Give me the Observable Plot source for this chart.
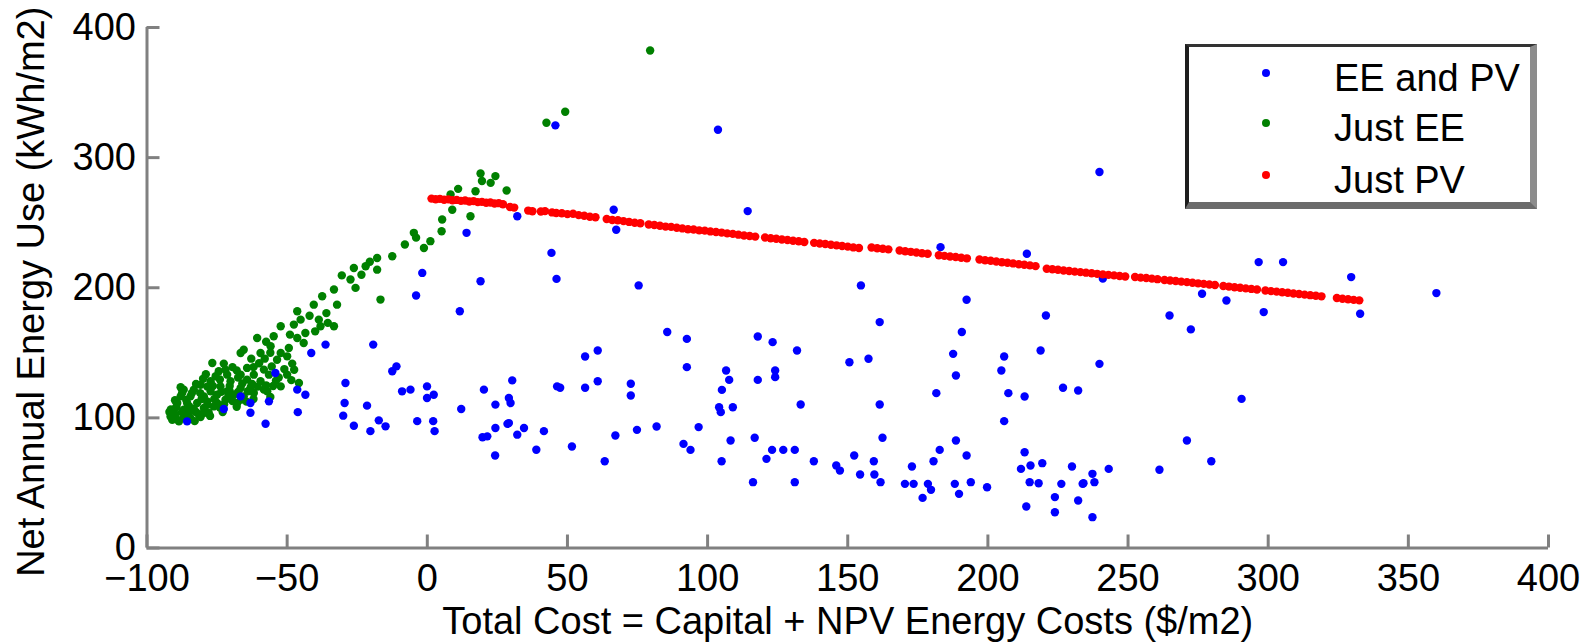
<!DOCTYPE html>
<html>
<head>
<meta charset="utf-8">
<script src="https://cdn.jsdelivr.net/npm/d3@7"></script>
<script src="https://cdn.jsdelivr.net/npm/@observablehq/plot@0.6"></script>
<style>
  body { margin: 0; background: #fff; }
  #wrap { position: relative; width: 1591px; height: 644px; font-family: 'Liberation Sans', Arial, Helvetica, sans-serif; }
  #legend { position: absolute; left: 1185px; top: 44px; width: 352px; height: 165px; box-sizing: border-box;
    border-left: 4px solid #1e1e1e; border-top: 3px solid #333; border-right: 7px solid #8c8c8c; border-bottom: 7px solid #6b6b6b; background: #fff; }
  .lg-dot { position: absolute; width: 8px; height: 8px; border-radius: 50%; }
  .lg-txt { position: absolute; font-size: 38px; line-height: 38px; color: #000; white-space: nowrap; }
</style>
</head>
<body>
<div id="wrap"></div>
<script>
// ---- tick values ----
const xTicks = [-100, -50, 0, 50, 100, 150, 200, 250, 300, 350, 400];
const yTicks = [0, 100, 200, 300, 400];
const xTitle = "Total Cost = Capital + NPV Energy Costs ($/m2)";
const yTitle = "Net Annual Energy Use (kWh/m2)";
const seriesNames = ["EE and PV", "Just EE", "Just PV"];
const seriesColors = ["#0000ff", "#008000", "#ff0000"];

// ---- series: [total cost, net annual energy use] ----
const eeAndPv = [
  [45.7,324.8],[32.1,255],[14.0,242.2],[44.3,226.8],[46.1,206.8],[-1.8,211.4],[19.0,205.0],[-4.0,194],[11.6,181.9],
  [-36.3,156.3],[-19.3,156.3],[-41.4,149.9],[-11.0,139.6],[-12.5,135.8],[30.3,128.8],[46.3,124.2],[-29.2,126.8],
  [-0.1,124.2],[-9.0,120.4],[-6.0,121.7],[2.3,117.8],[-0.1,115.3],[20.2,121.7],[29.1,115.3],[29.7,111.4],[24.3,110.2],
  [-43.5,117.8],[-46.4,121.7],[-56.5,112.7],[-63.1,111.4],[-72.6,106.8],[-63.1,103.9],[-46.2,104.4],[-29.5,111.4],
  [-30.0,101.7],[-21.5,109.4],[12.1,106.8],[-57.7,95.5],[-26.2,94.0],[-17.3,98.1],[-14.9,93.5],[-20.3,89.8],
  [-3.6,97.5],[2.1,97.5],[2.6,89.8],[24.3,92.2],[29.1,96.0],[34.5,92.2],[32.1,87.1],[41.6,89.8],[21.4,85.8],
  [24.2,71.1],[38.9,75.5],[-54.2,134.5],[-85.7,97.3],[-66.6,116.5],[19.7,85.1],[28.6,95.4],
  [103.7,321.4],[66.5,259.9],[67.4,244.6],[114.3,258.9],[75.4,201.8],[154.7,201.8],[183.1,231.2],[213.9,226.1],
  [192.4,190.8],[161.4,173.6],[220.7,178.7],[85.6,166],[190.7,166],[239.8,288.9],
  [92.6,160.7],[56.3,147.2],[60.8,151.8],[117.9,162.5],[123.2,158.2],[131.9,151.8],[187.6,149.2],[205.8,147.2],
  [218.8,151.8],[239.8,141.5],[150.6,142.8],[157.4,145.4],[92.6,139.0],[106.6,136.4],[107.7,129.2],[117.9,129.2],
  [124.1,136.4],[124.1,131.3],[204.8,136.4],[188.6,132.6],[47.4,123.1],[56.3,123.1],[60.8,128.2],[72.6,126.2],
  [72.6,117.2],[105.1,121.5],[181.6,119.0],[207.3,119.0],[213.1,116.4],[226.8,123.1],[232.2,121.0],[104.1,108.2],
  [109.0,108.2],[104.7,104.4],[133.2,110.3],[161.4,110.3],[205.8,97.5],[67.1,86.4],[74.8,90.8],[81.8,93.4],
  [96.8,92.9],[51.6,78.0],[91.4,80.0],[93.9,75.4],[108.2,82.6],[116.8,84.7],[162.4,84.7],[188.6,82.6],[63.3,66.7],
  [105.0,66.7],[121.0,68.5],[123.0,75.4],[127.0,75.4],[131.1,75.4],[137.9,66.7],[145.9,63.4],[147.2,59.5],
  [152.3,71.1],[159.3,66.7],[154.4,56.5],[159.5,56.5],[161.7,50.6],[172.9,62.6],[182.8,75.4],[180.6,66.7],
  [192.4,71.1],[170.4,49.3],[173.5,49.3],[178.6,49.3],[179.7,44.7],[176.7,38.5],[188.2,49.3],[193.9,50.6],
  [189.7,41.6],[199.7,46.7],[213.1,73.6],[211.8,60.8],[215.2,63.4],[219.4,65.2],[214.9,50.6],[218.1,49.8],
  [213.7,31.9],[226.2,49.3],[223.9,39.1],[223.9,27.5],[230.0,62.6],[232.2,36.5],[234.1,49.8],[237.3,57.0],
  [237.3,23.7],[116.2,50.6],[131.1,50.6],
  [296.6,219.7],[305.3,219.7],[329.6,208.2],[360.0,195.9],[332.8,180.0],[298.4,181.3],[285.1,190.2],[276.4,195.4],
  [264.8,178.7],[272.4,168],[241.0,207],[290.5,114.6],[271.0,82.6],[279.7,66.7],[261.2,60.1],[243.1,60.8],
  [238.0,50.6],[233.8,49.3]
];

const justEE = [
  [42.5,326.8],[49.2,335.3],[79.5,382.3],[19.0,287.8],[24.3,285.8],[22.6,280.6],[28.3,274.7],[17.2,274.2],[8.3,271.7],
  [8.9,260],[15.4,255],[5.3,252.4],[5.1,243.4],[-4.8,242.2],[1.1,235.8],[-8.0,233.2],[-1.2,230.6],[-17.9,222.9],
  [-12.5,224.2],[-22.0,216.5],[-17.9,213.9],[-26.2,215.2],[-27.4,206.3],[-25.6,199.9],[-16.7,190.9],[-33.3,198.6],
  [-37.5,193.5],[-32.2,187.0],[-40.5,187.0],[-46.4,181.9],[-38.7,175.5],[-45.2,175.5],[-33.3,170.4],[-52.3,170.4],
  [-38.1,170.4],[-47.6,171.7],[-43.5,165.2],[-60.7,161.4],[-54.8,162.7],[-46.4,161.4],[-44.1,157.5],[-49.4,153.7],
  [-55.9,155.0],[-65.5,152.4],[-59.5,149.9],[-66.6,149.9],[-52.3,149.9],[-50.0,147.3],[-53.6,144.7],[-76.7,142.2],
  [-72.6,141.7],[-48.2,141.7],[-64.3,138.4],[-58.3,137.1],[-74.4,135.8],[-71.4,133.2],[-66.6,133.2],[-61.9,133.2],
  [-56.5,133.2],[-50.0,133.2],[-77.3,128.1],[-70.2,128.1],[-64.3,129.4],[-59.5,128.1],[-45.8,126.8],[-52.3,124.2],
  [-80.9,125.5],[-73.8,124.2],[-66.6,122.9],[-58.3,121.7],[-86.9,121.7],[-83.3,121.7],[-77.3,120.4],[-71.4,120.4],
  [-61.9,119.1],[-57.1,120.4],[-88.0,116.5],[-84.5,116.5],[-79.7,116.5],[-75.0,117.8],[-69.0,117.8],[-65.5,116.5],
  [-89.2,111.4],[-85.7,111.4],[-82.1,111.4],[-78.5,112.7],[-75.0,111.4],[-67.8,111.4],[-90.4,106.3],[-86.9,106.3],
  [-83.3,106.8],[-79.7,107.6],[-76.2,108.8],[-89.8,102.4],[-85.7,102.4],[-81.5,102.4],[-88.6,97.3],[-91.6,101.1],
  [-84.5,99.9],[-80.9,100.6],
  [-72.0,114.0],[-70.5,124.5],[-62.5,126.0],[-54.0,128.5],[-68.0,108.5],[-73.0,104.5],[-78.0,104.0],[-86.0,113.8],
  [-81.0,119.0],[-74.0,129.5],[-66.0,126.5],[-62.0,114.5],[-56.0,116.0],[-48.5,129.0],[-60.0,142.0],[-62.8,145.5],
  [-69.5,139.0],[-80.0,130.0],[-87.5,104.5],[-83.0,97.5],[-77.5,101.5],[-72.5,110.5],[-64.0,120.5],[-67.5,131.0],
  [-42.0,178.5],[-36.0,180.5],[-49.0,164.0],[-57.5,158.5],[-40.0,166.5],[-35.5,173.0],[-30.5,209.5],[-20.5,220.0],
  [-23.5,210.0],[-4.0,238.5],[11.0,276.0],[19.5,282.0],[-88.0,123.5],[-90.0,113.5],[-92.0,104.5],
  [-91.0,98.5],[-89.5,99.0],[-87.0,100.0],[-85.0,104.0],[-82.5,104.5],[-80.0,103.5],[-78.5,110.0],[-76.0,114.5],
  [-74.0,108.0],[-71.0,116.0],[-69.5,113.0],[-66.5,114.0],[-64.5,112.5],[-70.5,120.5],[-67.5,120.0],[-63.0,123.5],
  [-60.5,124.0],[-57.5,125.0],[-55.0,124.5],[-53.0,131.0],[-51.0,137.5],[-47.5,137.0],[-55.5,139.5],[-58.0,145.5],
  [-56.0,150.0],[-62.0,139.0],[-68.0,136.5],[-72.0,137.0],[-75.5,132.0],[-78.5,124.0],[-82.5,126.0],[-84.0,119.0],
  [-87.5,119.0],[-89.5,108.5],[-91.5,106.5],[-79.0,133.5],[-85.0,109.0],[-80.5,114.5],[-76.5,124.5],[-73.5,120.0]
];

const justPV = [
  [1.5,268.5],[3,268.0],[4.5,268.3],[6,267.6],[7.5,267.9],[9,267.2],[10.5,267.5],[12,266.8],[13.5,267.0],[15,266.3],
  [16.5,266.6],[18,265.8],[19.5,266.0],[21,265.3],[22.5,265.5],[24,264.8],[25.5,265.0],[27,264.2],
  [29.5,262.0],[31,261.6],[36,259.3],[37.5,258.8],[40.5,258.6],[42,258.9],[44.5,257.9],[46,257.5],
  [48,257.2],[50,256.6],[52,256.9],[54,255.8],[56,255.3],[58,254.6],[60,254.2],
  [64,252.8],[66,252.1],[68,251.9],[70,251.2],[72,250.6],[74,250.0],[76,249.6],
  [79,248.6],[81,248.2],[83,247.6],[85,247.0],[87,246.8],[89,246.1],[91,245.6],[93,245.0],[95,244.8],[97,244.1],
  [99,243.9],[101,243.3],[103,242.9],[105,242.4],[107,241.8],[109,241.4],[111,240.8],[113,240.2],[115,239.8],[117,239.3],
  [120.5,238.6],[122.5,238.0],[124.5,237.7],[126.5,237.1],[128.5,236.7],[130.5,236.1],[132.5,235.7],[134.5,235.2],
  [138,234.5],[140,234.0],[142,233.6],[144,233.1],[146,232.6],[148,232.1],[150,231.6],[152,231.0],[154,230.6],
  [158.5,230.9],[160.5,230.4],[162.5,230.0],[164.5,229.5],
  [168.5,228.6],[170.5,228.1],[172.5,227.6],[174.5,227.1],[176.5,226.5],[178.5,226.1],
  [182.5,225.0],[184.5,224.5],[186.5,224.0],[188.5,223.6],[190.5,223.0],[192.5,222.6],
  [197,221.7],[199,221.1],[201,220.7],[203,220.2],[205,219.6],[207,219.2],[209,218.7],[211,218.1],[213,217.7],[215,217.2],[217,216.6],
  [221,214.6],[223,214.2],[225,213.8],[227,213.3],[229,212.9],[231,212.4],[233,212.0],[235,211.6],[237,211.2],[239,210.7],
  [241,210.3],[243,209.9],[245,209.5],[247,209.0],[249,208.7],
  [252.5,208.3],[254.5,207.8],[256.5,207.5],[258.5,207.0],[260.5,206.6],
  [263,206.0],[265,205.6],[267,205.2],[269,204.7],[271,204.3],[273,203.9],[275,203.4],[277,203.0],[279,202.5],[281,202.1],
  [284,201.3],[286,200.9],[288,200.4],[290,200.0],[292,199.5],[294,199.1],[296,198.6],
  [299,197.9],[301,197.4],[303,197.0],[305,196.5],[307,196.1],[309,195.6],[311,195.2],[313,194.7],[315,194.3],[317,193.8],[319,193.4],
  [324.5,192.1],[326.5,191.6],[328.5,191.2],[330.5,190.7],[332.5,190.3]
];

const W = 1591, H = 644;
const mL = 146.5, mR = 43, mT = 27, mB = 96.5;
const innerW = W - mL - mR, innerH = H - mT - mB;
const axisColor = "#808080";
const dotR = 4.2;
const fmt = d => (d < 0 ? "\u2212" : "") + Math.abs(d);
const fontFamily = "'Liberation Sans', Arial, Helvetica, sans-serif";

const chart = Plot.plot({
  width: W, height: H,
  marginLeft: mL, marginRight: mR, marginTop: mT, marginBottom: mB,
  style: { fontFamily, fontSize: "38px", color: "#000", background: "#fff", overflow: "visible" },
  x: { domain: [-100, 400] },
  y: { domain: [0, 400] },
  marks: [
    Plot.axisX({ ticks: xTicks, tickSize: 0, tickPadding: 16, tickFormat: fmt, fontSize: 38, label: null }),
    Plot.axisY({ ticks: yTicks, tickSize: 0, tickPadding: 11, tickFormat: fmt, fontSize: 38, label: null }),
    Plot.dot(justEE, { x: d => d[0], y: d => d[1], r: dotR, fill: seriesColors[1], stroke: "none" }),
    Plot.dot(eeAndPv, { x: d => d[0], y: d => d[1], r: dotR, fill: seriesColors[0], stroke: "none" }),
    Plot.dot(justPV, { x: d => d[0], y: d => d[1], r: dotR, fill: seriesColors[2], stroke: "none" }),
    Plot.ruleY([0], { stroke: axisColor, strokeWidth: 3 }),
    Plot.ruleX([-100], { stroke: axisColor, strokeWidth: 3 }),
    Plot.tickX(xTicks, { x: d => d, stroke: axisColor, strokeWidth: 3, insetTop: innerH - 13 }),
    Plot.tickY(yTicks, { y: d => d, stroke: axisColor, strokeWidth: 3, insetRight: innerW - 13 }),
    Plot.text([xTitle], { text: d => d, frameAnchor: "bottom", textAnchor: "middle", dy: 74, lineAnchor: "middle", fontSize: 38, fill: "#000" }),
    Plot.text([yTitle], { text: d => d, frameAnchor: "left", textAnchor: "middle", rotate: -90, dx: -115, dy: 4, lineAnchor: "middle", fontSize: 38, fill: "#000" })
  ]
});

const wrap = document.getElementById("wrap");
wrap.appendChild(chart);

// legend (inside the plot area, as in the reference)
const legend = document.createElement("div");
legend.id = "legend";
const rowMarkerY = [72.5, 123, 174.5];
const rowTextY = [77.5, 127.5, 180];
seriesNames.forEach((name, i) => {
  const dot = document.createElement("div");
  dot.className = "lg-dot";
  dot.style.background = seriesColors[i];
  dot.style.left = (1266 - 1185 - 4 - 4) + "px";
  dot.style.top = (rowMarkerY[i] - 44 - 3 - 4) + "px";
  legend.appendChild(dot);
  const t = document.createElement("div");
  t.className = "lg-txt";
  t.textContent = name;
  t.style.left = (1334 - 1185 - 4) + "px";
  t.style.top = (rowTextY[i] - 44 - 3 - 18.6) + "px";
  legend.appendChild(t);
});
wrap.appendChild(legend);
</script>
</body>
</html>
